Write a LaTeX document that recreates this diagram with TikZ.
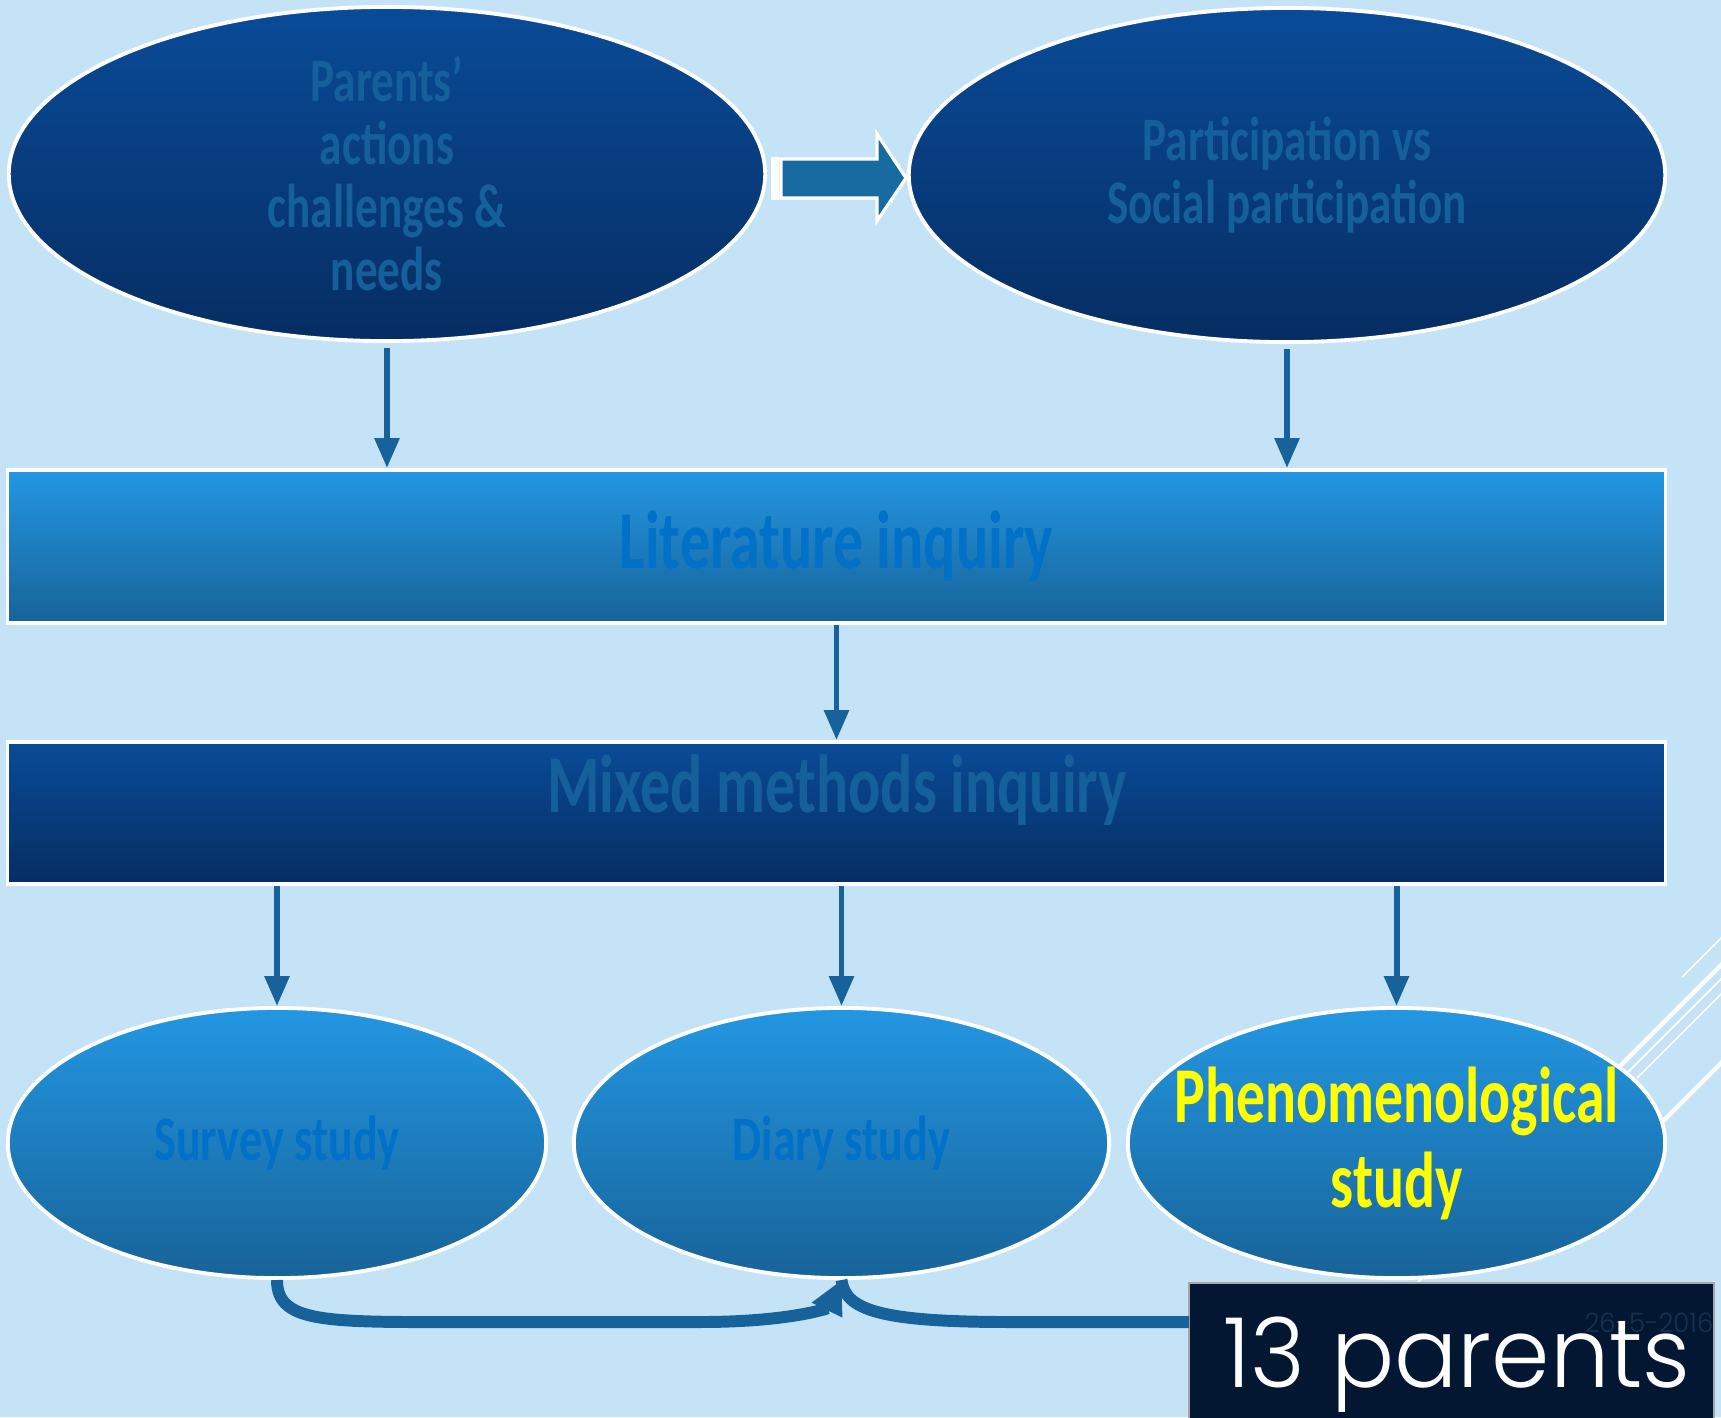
\documentclass[tikz,border=0pt]{standalone}
\usepackage{fontspec}
\usetikzlibrary{shapes.geometric,arrows.meta}
\newfontfamily\condfont[FakeStretch=0.73]{Carlito}
\newfontfamily\thinfont[FakeStretch=0.97]{Poppins Light}
\definecolor{bg}{HTML}{C5E3F6}
\definecolor{navytop}{HTML}{094B98}
\definecolor{navybot}{HTML}{062D62}
\definecolor{skytop}{HTML}{2397E3}
\definecolor{skybot}{HTML}{176398}
\definecolor{arrowblue}{HTML}{17629A}
\definecolor{arrowfill}{HTML}{186BA1}
\definecolor{dimtext}{HTML}{15609A}
\definecolor{brighttext}{HTML}{0070C8}
\definecolor{boxnavy}{HTML}{031733}
\definecolor{datecol}{HTML}{17324F}
\definecolor{phenoyellow}{HTML}{FFFF00}
\begin{document}
\begin{tikzpicture}[x=0.01cm,y=-0.01cm,
  navyell/.style={ellipse, inner sep=0pt, draw=white, line width=1.1pt,
    top color=navytop, bottom color=navybot, minimum width=7.56cm, minimum height=3.34cm,
    align=center, text=dimtext, font=\condfont\bfseries\fontsize{17.6}{17.9}\selectfont},
  skyell/.style={ellipse, inner sep=0pt, draw=white, line width=1.1pt,
    top color=skytop, bottom color=skybot, minimum height=2.70cm,
    align=center, text=brighttext, font=\condfont\bfseries\fontsize{18}{19}\selectfont},
  phenolabel/.style={inner sep=0pt, align=center, text=phenoyellow,
    font=\condfont\bfseries\fontsize{22.5}{24.2}\selectfont},
  barbox/.style={rectangle, inner sep=0pt, draw=white, line width=1.1pt, minimum width=16.57cm},
  bartext/.style={inner sep=0pt, font=\condfont\bfseries\fontsize{23.4}{24}\selectfont},
  arr/.style={draw=arrowblue, line width=1.7pt, -{Triangle[length=8.5pt,width=6.8pt]}},
  curvy/.style={draw=arrowblue, line width=3.4pt},
  deco/.style={draw=white, line width=0.5pt},
  decothick/.style={draw=white, line width=1.2pt},
  blockarrow/.style={fill=arrowfill, draw=white, line width=0.9pt, line join=miter}
]
\useasboundingbox (0,0) rectangle (1721,1417);
\fill[bg] (0,0) rectangle (1721,1417);
\clip (0,0) rectangle (1721,1417);

% decorative slide lines (behind shapes)
\draw[deco] (1682,977) -- (1760,899);
\draw[decothick] (1619,1067) -- (1760,926);
\draw[deco] (1400,1300) -- (1760,940);
\draw[deco] (1637,1078) -- (1760,955);
\draw[decothick] (1662,1122) -- (1760,1024);

% top ellipses
\node[navyell] (e1) at (387,174) {Parents’\\actions\\challenges \&\\needs};
\node[navyell] (e2) at (1287,175) {Participation vs\\Social participation};

% block arrow between the top ellipses
\filldraw[blockarrow] (773,159) rectangle (777,198);
\filldraw[blockarrow] (781,159) -- (877,159) -- (877,134) -- (906,178) -- (877,221) -- (877,198) -- (781,198) -- cycle;

% bars
\node[barbox, minimum height=1.53cm, top color=skytop, bottom color=skybot,
      text=brighttext, font=\condfont\bfseries\fontsize{23.4}{24}\selectfont] (lit) at (836.5,546.5) {Literature inquiry};
\node[barbox, minimum height=1.42cm, top color=navytop, bottom color=navybot] (mixed) at (836.5,813) {};
\node[bartext, text=dimtext, anchor=base] (mixedtext) at (837,812) {Mixed methods inquiry};

% bottom ellipses
\node[skyell, minimum width=5.38cm] (s1) at (277,1143) {Survey study};
\node[skyell, minimum width=5.35cm] (s2) at (841.5,1143) {Diary study};
\node[skyell, minimum width=5.37cm,
      label={[phenolabel]center:{Phenomenological\\study}}] (s3) at (1396.5,1143) {};

% straight connectors
\draw[arr, shorten <=1.5pt] (e1.south) -- (e1.south |- lit.north);
\draw[arr, shorten <=1.5pt] (e2.south) -- (e2.south |- lit.north);
\draw[arr] (lit.south) -- (mixed.north);
\draw[arr] (mixed.south -| s1.north) -- (s1.north);
\draw[arr] (mixed.south -| s2.north) -- (s2.north);
\draw[arr] (mixed.south -| s3.north) -- (s3.north);

% 13 parents box
\node[rectangle, inner sep=0pt, fill=boxnavy, draw=gray!70, line width=0.6pt,
      minimum width=5.25cm, minimum height=1.47cm] (parents) at (1451.5,1356.5) {};
\node[anchor=base east, inner sep=0pt, text=datecol, font=\thinfont\fontsize{7.6}{8}\selectfont] (date) at (1714,1332) {26-5-2016};
\node[anchor=base, inner sep=0pt, text=white, font=\thinfont\fontsize{27.5}{30}\selectfont] (parentstext) at (1457,1387) {13 parents};
\coordinate (feed) at (1189,1322);

% curved connectors
\draw[curvy, -{Triangle[length=9.5pt,width=9pt]}] (s1.south) .. controls (277,1325) and (330,1322) .. (480,1322) -- (700,1322) .. controls (790,1322) and (828,1308) .. (s2.south);
\draw[curvy] (feed) -- (1010,1322) .. controls (880,1322) and (845,1310) .. (s2.south);
\end{tikzpicture}
\end{document}
